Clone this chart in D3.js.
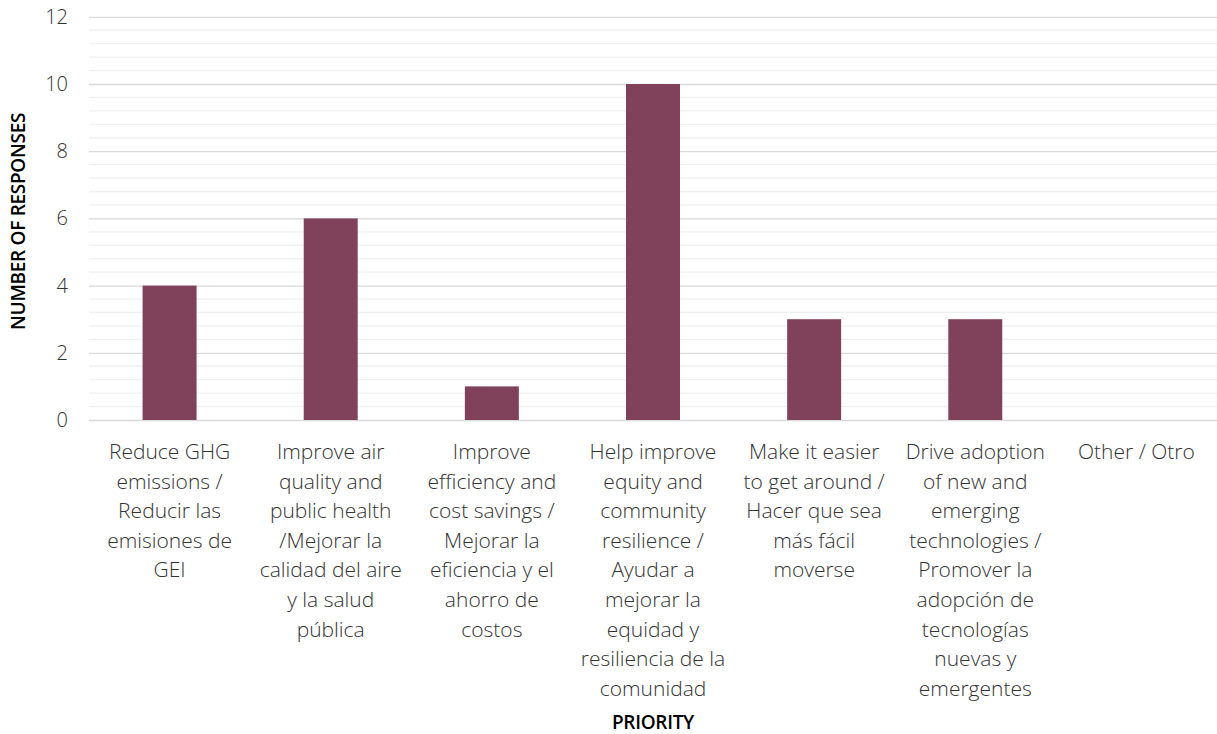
<!DOCTYPE html>
<html>
<head>
<meta charset="utf-8">
<script src="https://cdn.jsdelivr.net/npm/d3@7"></script>
<style>
  body { margin: 0; background: #fff; }
  text { font-family: "Open Sans", Lato, sans-serif; }
</style>
</head>
<body>
<svg id="chart"></svg>
<script>
// categories (line breaks as in the picture)
const categories = [
  "Reduce GHG\nemissions /\nReducir las\nemisiones de\nGEI",
  "Improve air\nquality and\npublic health\n/Mejorar la\ncalidad del aire\ny la salud\npública",
  "Improve\nefficiency and\ncost savings /\nMejorar la\neficiencia y el\nahorro de\ncostos",
  "Help improve\nequity and\ncommunity\nresilience /\nAyudar a\nmejorar la\nequidad y\nresiliencia de la\ncomunidad",
  "Make it easier\nto get around /\nHacer que sea\nmás fácil\nmoverse",
  "Drive adoption\nof new and\nemerging\ntechnologies /\nPromover la\nadopción de\ntecnologías\nnuevas y\nemergentes",
  "Other / Otro"
];
const responses = [4, 6, 1, 10, 3, 3, 0];
const yTicks = [0, 2, 4, 6, 8, 10, 12];

const width = 1217;
const height = 734;
const margin = { top: 16.8, right: 0, bottom: 314, left: 89 };
const chartWidth = width - margin.left - margin.right;
const chartHeight = height - margin.top - margin.bottom;

const svg = d3.select("#chart").attr("width", width).attr("height", height);

const xScale = d3.scaleBand()
  .domain(d3.range(categories.length))
  .range([0, chartWidth])
  .paddingInner(0.665)
  .paddingOuter(0.3325);

const yScale = d3.scaleLinear().domain([0, 12]).range([chartHeight, 0]);

const chart = svg.append("g").attr("transform", `translate(${margin.left},${margin.top})`);

// minor gridlines
const minorTicks = d3.range(0, 12.001, 0.4).filter(v => Math.abs(v / 2 - Math.round(v / 2)) > 0.01);
chart.append("g")
  .selectAll("line")
  .data(minorTicks)
  .enter()
  .append("line")
  .attr("x1", 0).attr("x2", chartWidth)
  .attr("y1", d => yScale(d)).attr("y2", d => yScale(d))
  .attr("stroke", "#f0f0f0")
  .attr("stroke-width", 1.3);

// major gridlines + labels
const yAxis = chart.append("g")
  .call(d3.axisLeft(yScale).tickValues(yTicks).tickSize(-chartWidth).tickFormat(d3.format("d")));
yAxis.select(".domain").remove();
yAxis.selectAll(".tick line").attr("stroke", "#d9d9d9").attr("stroke-width", 1.3);
yAxis.selectAll(".tick text")
  .attr("fill", "#333")
  .style("font-size", "20px")
  .style("font-weight", 300)
  .attr("x", -21);

// bars
chart.selectAll(".bar")
  .data(responses)
  .enter()
  .append("rect")
  .attr("class", "bar")
  .attr("x", (d, i) => xScale(i))
  .attr("y", d => yScale(d))
  .attr("width", xScale.bandwidth())
  .attr("height", d => chartHeight - yScale(d))
  .attr("fill", "#80415b");

// category labels
const labels = chart.append("g")
  .selectAll("text")
  .data(categories)
  .enter()
  .append("text")
  .attr("text-anchor", "middle")
  .attr("fill", "#333")
  .style("font-size", "21px")
  .style("font-weight", 300)
  .attr("transform", (d, i) => `translate(${xScale(i) + xScale.bandwidth() / 2},${chartHeight + 39})`);

labels.selectAll("tspan")
  .data(d => d.split("\n"))
  .enter()
  .append("tspan")
  .attr("x", 0)
  .attr("dy", (d, i) => i === 0 ? 0 : 29.6)
  .text(d => d);

// axis titles
svg.append("text")
  .attr("text-anchor", "middle")
  .attr("transform", `translate(25,${margin.top + chartHeight / 2 + 3}) rotate(-90)`)
  .attr("fill", "#000")
  .style("font-size", "19px")
  .style("font-weight", 600)
  .style("letter-spacing", "-0.3px")
  .text("NUMBER OF RESPONSES");

svg.append("text")
  .attr("text-anchor", "middle")
  .attr("x", margin.left + xScale(3) + xScale.bandwidth() / 2)
  .attr("y", 729)
  .attr("fill", "#000")
  .style("font-size", "19px")
  .style("font-weight", 600)
  .style("letter-spacing", "-0.3px")
  .text("PRIORITY");
</script>
</body>
</html>
